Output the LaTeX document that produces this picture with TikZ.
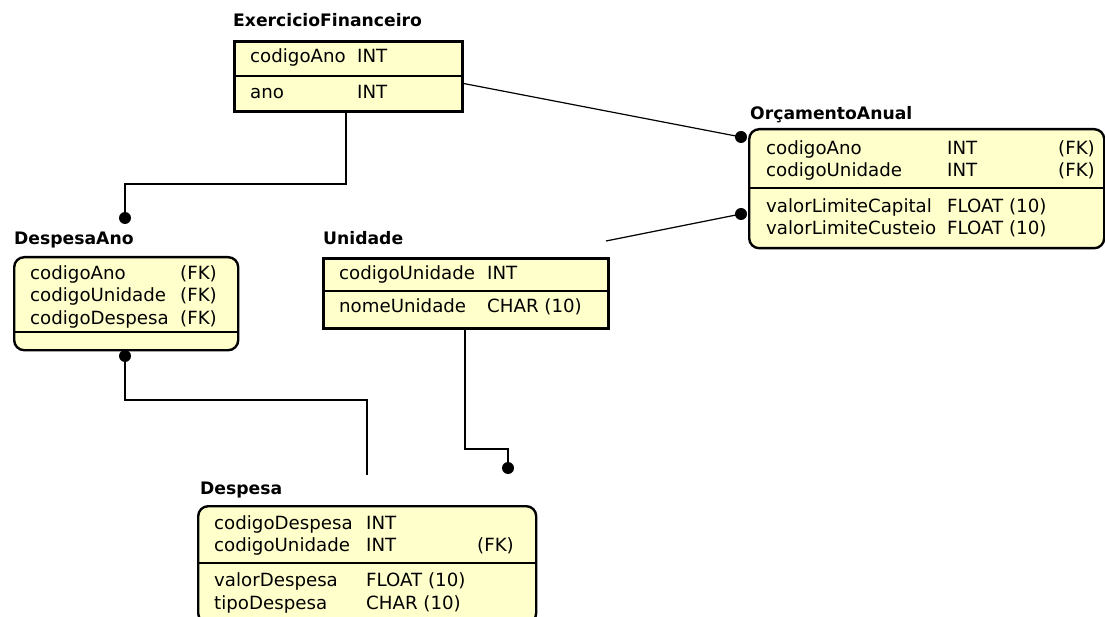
\documentclass[tikz,border=0pt]{standalone}
\usepackage{fontspec}
\setmainfont{DejaVu Sans}
\usetikzlibrary{positioning}

\definecolor{tabfill}{RGB}{255,255,204}
\newcommand{\erfont}{\fontsize{18.2}{21}\selectfont}
\newcommand{\ertitlefont}{\fontsize{17.2}{21}\selectfont\bfseries}

\tikzset{
  tabsq/.style={draw, line width=3pt, fill=tabfill, anchor=north west, inner sep=0pt},
  tabrd/.style={draw, line width=2.4pt, fill=tabfill, anchor=north west, inner sep=0pt, rounded corners=10pt},
  tabtitle/.style={font=\ertitlefont, anchor=west, inner sep=0pt, text height=13pt, text depth=4pt},
  field/.style={font=\erfont, anchor=west, inner sep=0pt, text height=13pt, text depth=4pt},
  divider/.style={line width=1.5pt},
  rel/.style={line width=1.2pt},
  dot/.style={circle, fill=black, inner sep=0pt, minimum size=12pt},
}

\begin{document}
\begin{tikzpicture}[x=1pt, y=-1pt]

  \clip (0,0) rectangle (1105,617);

  % --- pontos de ligacao ---
  \coordinate (efS) at (346,110);
  \coordinate (efE) at (461,83);
  \coordinate (unS) at (465,327);
  \coordinate (unNE) at (606,241);
  \coordinate (despN) at (367,475);

  % --- relacionamentos ---
  \draw[rel] (efS) -- ++(0,74) -| (125,218) coordinate (daTop);
  \draw[rel] (125,356) coordinate (daBot) -- ++(0,44) -| (despN);
  \draw[rel] (unS) -- ++(0,122) -| (508,468) coordinate (unEnd);
  \draw[rel] (efE) -- (741,137) coordinate (orcA);
  \draw[rel] (unNE) -- (741,214) coordinate (orcB);

  % ============================================================
  % ExercicioFinanceiro
  % ============================================================
  \node[tabtitle] (efT) at (233,22) {ExercicioFinanceiro};
  \node[tabsq, minimum width=228pt, minimum height=70pt] (ef) at (233,40) {};
  \draw[divider] (233,76) -- (461,76);
  \node[field] (ef1) at (250,58) {codigoAno};
  \node[field] (ef1t) at (357,58) {INT};
  \node[field] (ef2) at (250,94) {ano};
  \node[field] (ef2t) at (357,94) {INT};

  % ============================================================
  % OrcamentoAnual
  % ============================================================
  \node[tabtitle] (orcT) at (750,115) {OrçamentoAnual};
  \node[tabrd, minimum width=355pt, minimum height=119pt] (orc) at (748,128) {};
  \draw[divider] (748,188) -- (1103,188);
  \node[field] (orc1) at (766,150) {codigoAno};
  \node[field] (orc1t) at (947,150) {INT};
  \node[field] (orc1k) at (1058,150) {(FK)};
  \node[field] (orc2) at (766,172) {codigoUnidade};
  \node[field] (orc2t) at (947,172) {INT};
  \node[field] (orc2k) at (1058,172) {(FK)};
  \node[field] (orc3) at (766,208) {valorLimiteCapital};
  \node[field] (orc3t) at (947,208) {FLOAT (10)};
  \node[field] (orc4) at (766,230) {valorLimiteCusteio};
  \node[field] (orc4t) at (947,230) {FLOAT (10)};

  % ============================================================
  % DespesaAno
  % ============================================================
  \node[tabtitle] (daT) at (14,240) {DespesaAno};
  \node[tabrd, minimum width=224pt, minimum height=93pt] (da) at (13,256) {};
  \draw[divider] (13,332) -- (237,332);
  \node[field] (da1) at (30,275) {codigoAno};
  \node[field] (da1k) at (180,275) {(FK)};
  \node[field] (da2) at (30,297) {codigoUnidade};
  \node[field] (da2k) at (180,297) {(FK)};
  \node[field] (da3) at (30,320) {codigoDespesa};
  \node[field] (da3k) at (180,320) {(FK)};

  % ============================================================
  % Unidade
  % ============================================================
  \node[tabtitle] (unT) at (323,240) {Unidade};
  \node[tabsq, minimum width=285pt, minimum height=70pt] (un) at (322,257) {};
  \draw[divider] (322,291) -- (607,291);
  \node[field] (un1) at (339,275) {codigoUnidade};
  \node[field] (un1t) at (487,275) {INT};
  \node[field] (un2) at (339,308) {nomeUnidade};
  \node[field] (un2t) at (487,308) {CHAR (10)};

  % ============================================================
  % Despesa
  % ============================================================
  \node[tabtitle] (despT) at (200,490) {Despesa};
  \node[tabrd, minimum width=338pt, minimum height=117pt] (desp) at (197,505) {};
  \draw[divider] (197,563) -- (535,563);
  \node[field] (desp1) at (214,525) {codigoDespesa};
  \node[field] (desp1t) at (366,525) {INT};
  \node[field] (desp2) at (214,547) {codigoUnidade};
  \node[field] (desp2t) at (366,547) {INT};
  \node[field] (desp2k) at (477,547) {(FK)};
  \node[field] (desp3) at (214,582) {valorDespesa};
  \node[field] (desp3t) at (366,582) {FLOAT (10)};
  \node[field] (desp4) at (214,605) {tipoDespesa};
  \node[field] (desp4t) at (366,605) {CHAR (10)};

  % --- pontos ---
  \node[dot] (dA) at (daTop) {};
  \node[dot] (dB) at (daBot) {};
  \node[dot] (dC) at (unEnd) {};
  \node[dot] (dD) at (orcA) {};
  \node[dot] (dE) at (orcB) {};

\end{tikzpicture}
\end{document}
